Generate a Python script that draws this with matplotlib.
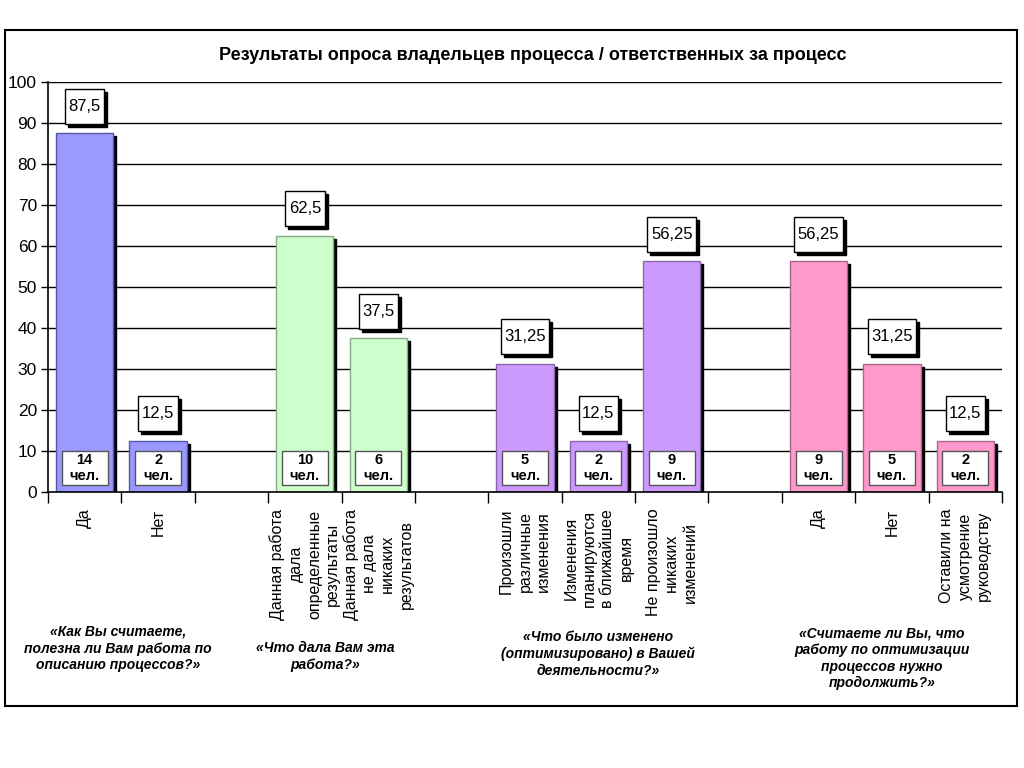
import matplotlib
matplotlib.use("Agg")
import matplotlib.pyplot as plt
import matplotlib.font_manager as fm
from matplotlib.patches import Rectangle

# --- data ---
group_questions = [
    "«Как Вы считаете,\nполезна ли Вам работа по\nописанию процессов?»",
    "«Что дала Вам эта\nработа?»",
    "«Что было изменено\n(оптимизировано) в Вашей\nдеятельности?»",
    "«Считаете ли Вы, что\nработу по оптимизации\nпроцессов нужно\nпродолжить?»",
]
group_labels = [
    ["Да", "Нет"],
    ["Данная работа\nдала\nопределенные\nрезультаты", "Данная работа\nне дала\nникаких\nрезультатов"],
    ["Произошли\nразличные\nизменения", "Изменения\nпланируются\nв ближайшее\nвремя", "Не произошло\nникаких\nизменений"],
    ["Да", "Нет", "Оставили на\nусмотрение\nруководству"],
]
group_values = [
    [87.5, 12.5],
    [62.5, 37.5],
    [31.25, 12.5, 56.25],
    [56.25, 31.25, 12.5],
]
group_counts = [
    [14, 2],
    [10, 6],
    [5, 2, 9],
    [9, 5, 2],
]
group_colors = ["#9999FF", "#CCFFCC", "#CC99FF", "#FF99CC"]
group_edges = ["#5555AA", "#88AA88", "#8866AA", "#AA6688"]
title = "Результаты опроса владельцев процесса / ответственных за процесс"

names = {f.name for f in fm.fontManager.ttflist}
narrow = "Liberation Sans Narrow" if "Liberation Sans Narrow" in names else "Liberation Sans"
plt.rcParams["font.family"] = ["Liberation Sans", "DejaVu Sans"]

fig = plt.figure(figsize=(10.24, 7.68), dpi=100)
ax = fig.add_axes([48 / 1024, 1 - 492 / 768, 954 / 1024, 410 / 768])

# outer frame
fig.patches.append(Rectangle((5 / 1024, 1 - 706 / 768), 1012 / 1024, 676 / 768,
                             transform=fig.transFigure, fill=False, ec="black", lw=1.5))

# lay out slots: groups separated by one empty slot
xs, labels, vals, cnts, cols, edges = [], [], [], [], [], []
pos = 0
for g in range(len(group_values)):
    for lab, v, c in zip(group_labels[g], group_values[g], group_counts[g]):
        xs.append(pos); labels.append(lab); vals.append(v); cnts.append(c)
        cols.append(group_colors[g]); edges.append(group_edges[g])
        pos += 1
    pos += 1
nslots = pos - 1

ax.set_xlim(-0.5, nslots - 0.5)
ax.set_ylim(0, 100)

for y in range(10, 101, 10):
    ax.axhline(y, color="black", lw=1, zorder=1)

bw = 0.78
px_x = 954 / nslots   # pixels per x unit
px_y = 4.1            # pixels per y unit
sx, sy = 3 / px_x, 3 / px_y
for x, v, c, e in zip(xs, vals, cols, edges):
    ax.add_patch(Rectangle((x - bw / 2 + sx, -sy), bw, v, color="black", zorder=2))
    ax.add_patch(Rectangle((x - bw / 2, 0), bw, v, facecolor=c, edgecolor=e, lw=1, zorder=3))

# count boxes
cw, ch = 46 / px_x, 34 / px_y
for x, n in zip(xs, cnts):
    ax.add_patch(Rectangle((x - cw / 2, 1.7), cw, ch, facecolor="white",
                           edgecolor="#555555", lw=1, zorder=4))
    ax.text(x, 1.7 + ch / 2, f"{n}\nчел.", ha="center", va="center", fontsize=10.5,
            fontweight="bold", linespacing=1.2, zorder=5)

# value labels
vtexts = []
for x, v in zip(xs, vals):
    s = f"{v:g}".replace(".", ",")
    t = ax.text(x, v + 6.6, s, ha="center", va="center", fontsize=12,
                family=[narrow, "DejaVu Sans"], zorder=7)
    vtexts.append(t)

fig.canvas.draw()
r = fig.canvas.get_renderer()
for t, x, v in zip(vtexts, xs, vals):
    bb = t.get_window_extent(r)
    w = (bb.width + 7) / px_x
    h = 35 / px_y
    yc = v + 6.6
    ax.add_patch(Rectangle((x - w / 2 + sx, yc - h / 2 - sy), w, h, color="black",
                           zorder=5, clip_on=False))
    ax.add_patch(Rectangle((x - w / 2, yc - h / 2), w, h, facecolor="white",
                           edgecolor="black", lw=1, zorder=6, clip_on=False))

# axes styling
for s in ["top", "right"]:
    ax.spines[s].set_visible(False)
ax.spines["left"].set_linewidth(1.2)
ax.spines["bottom"].set_linewidth(1.2)
ax.spines["left"].set_zorder(8)
ax.spines["bottom"].set_zorder(8)
ax.set_yticks(range(0, 101, 10))
ax.tick_params(axis="y", length=5, width=1, labelsize=12.5, pad=3)
for lab in ax.get_yticklabels():
    lab.set_family([narrow, "DejaVu Sans"])

ax.set_xticks(xs)
ax.set_xticklabels(labels, rotation=90, va="top", ha="center", multialignment="center",
                   fontsize=11.5, linespacing=1.28)
ax.tick_params(axis="x", which="major", length=0, pad=12)
ax.set_xticks([i - 0.5 for i in range(nslots + 1)], minor=True)
ax.tick_params(axis="x", which="minor", length=8, width=1, direction="out")

fig.text(533 / 1024, 1 - 55 / 768, title, ha="center", va="center", fontsize=13,
         fontweight="bold", family=[narrow, "DejaVu Sans"])

q_pos = [(118, 625), (325, 641), (598, 630), (882, 626)]
for q, (qx, qy) in zip(group_questions, q_pos):
    fig.text(qx / 1024, 1 - qy / 768, q, ha="center", va="top", fontsize=10,
             fontweight="bold", style="italic", linespacing=1.25)

fig.savefig("out.png", dpi=100)
